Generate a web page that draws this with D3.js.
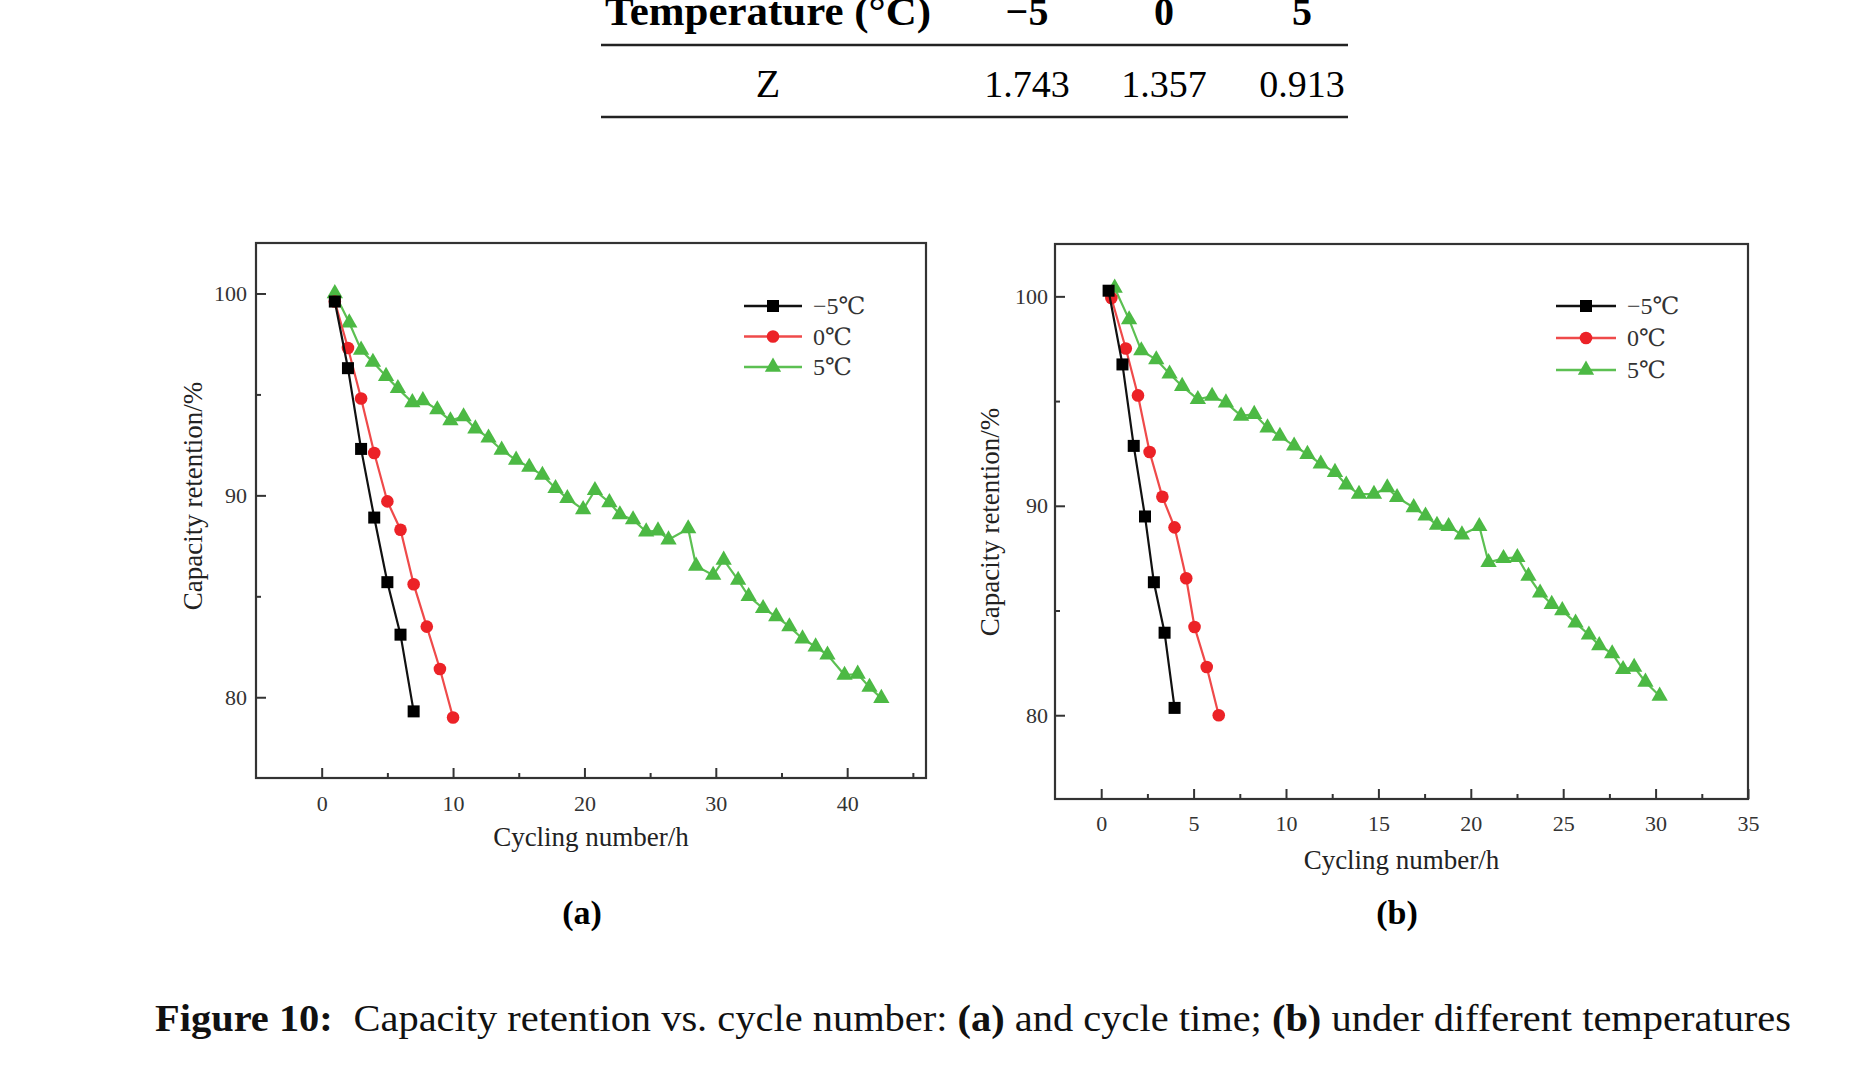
<!DOCTYPE html>
<html>
<head>
<meta charset="utf-8">
<script src="https://cdn.jsdelivr.net/npm/d3@7"></script>
<style>
  body { margin: 0; background: #fff; }
  text { font-family: "Liberation Serif", "DejaVu Serif", serif; }
</style>
</head>
<body>
<script>
// Table at the top
const tableTemps = ["−5", "0", "5"];
const tableZ = ["1.743", "1.357", "0.913"];

// Legend labels
const seriesNames = ["−5℃", "0℃", "5℃"];

// Panel (a): capacity retention vs cycling number
const aBlackX = [1, 2, 3, 4, 5, 6, 7];
const aBlackY = [99.6, 96.3, 92.3, 88.9, 85.7, 83.1, 79.3];
const aRedX = [1, 2, 3, 4, 5, 6, 7, 8, 9, 10];
const aRedY = [99.6, 97.3, 94.8, 92.1, 89.7, 88.3, 85.6, 83.5, 81.4, 79.0];
const aGreenX = [1.0, 2.1, 3.0, 3.9, 4.9, 5.8, 6.9, 7.7, 8.8, 9.8, 10.8, 11.7, 12.7, 13.7, 14.8,
  15.8, 16.8, 17.8, 18.7, 19.9, 20.8, 21.9, 22.7, 23.7, 24.7, 25.6, 26.4, 27.9, 28.5, 29.8,
  30.6, 31.7, 32.5, 33.6, 34.6, 35.6, 36.6, 37.6, 38.5, 39.8, 40.8, 41.7, 42.6];
const aGreenY = [100.0, 98.55, 97.2, 96.6, 95.9, 95.3, 94.6, 94.7, 94.25, 93.7, 93.9, 93.3, 92.85, 92.25, 91.75,
  91.4, 91.0, 90.35, 89.85, 89.3, 90.25, 89.65, 89.05, 88.8, 88.2, 88.25, 87.8, 88.35, 86.5, 86.05,
  86.8, 85.8, 85.0, 84.4, 84.0, 83.5, 82.9, 82.5, 82.1, 81.1, 81.15, 80.5, 79.95];

// Panel (b): capacity retention vs cycle time
const bBlackX = [0.4, 1.15, 1.76, 2.37, 2.85, 3.43, 3.97];
const bBlackY = [100.27, 96.75, 92.86, 89.49, 86.35, 83.94, 80.35];
const bRedX = [0.55, 1.33, 1.99, 2.62, 3.31, 3.97, 4.6, 5.05, 5.71, 6.36];
const bRedY = [99.92, 97.51, 95.27, 92.57, 90.43, 88.97, 86.54, 84.21, 82.3, 80.0];
const bGreenX = [0.73, 1.51, 2.17, 2.98, 3.7, 4.38, 5.23, 6.0, 6.75, 7.57, 8.28, 9.0, 9.67, 10.44, 11.16,
  11.88, 12.65, 13.26, 13.95, 14.76, 15.48, 16.01, 16.91, 17.55, 18.17, 18.8, 19.52, 20.46, 20.96, 21.77,
  22.52, 23.12, 23.75, 24.38, 24.95, 25.67, 26.39, 26.95, 27.65, 28.24, 28.84, 29.45, 30.22];
const bGreenY = [100.4, 98.89, 97.41, 96.98, 96.3, 95.71, 95.08, 95.24, 94.92, 94.29, 94.37, 93.73, 93.33, 92.86, 92.46,
  92.0, 91.6, 91.0, 90.56, 90.56, 90.87, 90.4, 89.92, 89.52, 89.08, 89.02, 88.62, 89.02, 87.3, 87.49,
  87.54, 86.64, 85.84, 85.3, 85.0, 84.41, 83.84, 83.33, 82.94, 82.19, 82.3, 81.59, 80.92];

// Tick values
const yMajor = [80, 90, 100];
const yMinor = [85, 95];
const aXMajor = [0, 10, 20, 30, 40];
const aXMinor = [5, 15, 25, 35, 45];
const bXMajor = [0, 5, 10, 15, 20, 25, 30, 35];
const bXMinor = [2.5, 7.5, 12.5, 17.5, 22.5, 27.5, 32.5];

const colors = ["#000000", "#ec2227", "#4cb944"];
const lineColors = ["#111111", "#ef4a4a", "#5cc052"];

const width = 1863;
const height = 1080;

const svg = d3.select('body').append('svg')
    .attr('width', width)
    .attr('height', height);

// ---- table ----
const colX = [768, 1027, 1164, 1302];
svg.append('line').attr('x1', 601).attr('x2', 1348).attr('y1', 45).attr('y2', 45)
    .attr('stroke', '#222').attr('stroke-width', 2.5);
svg.append('line').attr('x1', 601).attr('x2', 1348).attr('y1', 117).attr('y2', 117)
    .attr('stroke', '#222').attr('stroke-width', 2.5);

svg.append('text').attr('x', colX[0]).attr('y', 25).attr('text-anchor', 'middle')
    .attr('font-size', 40).attr('font-weight', 'bold')
    .attr('textLength', 326).attr('lengthAdjust', 'spacingAndGlyphs')
    .text('Temperature (°C)');
tableTemps.forEach((t, i) => {
    svg.append('text').attr('x', colX[i + 1]).attr('y', 25).attr('text-anchor', 'middle')
        .attr('font-size', 40).attr('font-weight', 'bold').text(t);
});
svg.append('text').attr('x', colX[0]).attr('y', 97).attr('text-anchor', 'middle')
    .attr('font-size', 40).text('Z');
tableZ.forEach((t, i) => {
    svg.append('text').attr('x', colX[i + 1]).attr('y', 97).attr('text-anchor', 'middle')
        .attr('font-size', 38).text(t);
});

// ---- panels ----
const drawPanel = (p) => {
    const x = d3.scaleLinear().domain(p.xDomain).range([p.left, p.right]);
    const y = d3.scaleLinear().domain([76, 102.5]).range([p.bottom, p.top]);
    const g = svg.append('g');

    // Bottom axis, ticks pointing inward
    g.append('g')
        .attr('transform', `translate(0,${p.bottom})`)
        .call(d3.axisBottom(x).tickValues(p.xMajor).tickSize(-10).tickPadding(p.xPad))
        .call(a => a.select('.domain').remove())
        .call(a => a.selectAll('text').attr('font-size', 22).attr('fill', '#333')
            .attr('font-family', '"Liberation Serif", serif'))
        .call(a => a.selectAll('line').attr('stroke', '#333').attr('stroke-width', 2));
    g.append('g')
        .attr('transform', `translate(0,${p.bottom})`)
        .call(d3.axisBottom(x).tickValues(p.xMinor).tickSize(-5).tickFormat(''))
        .call(a => a.select('.domain').remove())
        .call(a => a.selectAll('line').attr('stroke', '#333').attr('stroke-width', 2));

    // Left axis
    g.append('g')
        .attr('transform', `translate(${p.left},0)`)
        .call(d3.axisLeft(y).tickValues(yMajor).tickSize(-10).tickPadding(p.yPad))
        .call(a => a.select('.domain').remove())
        .call(a => a.selectAll('text').attr('font-size', 22).attr('fill', '#333')
            .attr('font-family', '"Liberation Serif", serif'))
        .call(a => a.selectAll('line').attr('stroke', '#333').attr('stroke-width', 2));
    g.append('g')
        .attr('transform', `translate(${p.left},0)`)
        .call(d3.axisLeft(y).tickValues(yMinor).tickSize(-5).tickFormat(''))
        .call(a => a.select('.domain').remove())
        .call(a => a.selectAll('line').attr('stroke', '#333').attr('stroke-width', 2));

    // Frame
    g.append('rect')
        .attr('x', p.left).attr('y', p.top)
        .attr('width', p.right - p.left).attr('height', p.bottom - p.top)
        .attr('fill', 'none').attr('stroke', '#333').attr('stroke-width', 2.2);

    // Series: green, red, black (black on top)
    const series = [
        {xs: p.series[2][0], ys: p.series[2][1], k: 2},
        {xs: p.series[1][0], ys: p.series[1][1], k: 1},
        {xs: p.series[0][0], ys: p.series[0][1], k: 0},
    ];
    const line = d3.line().x(d => x(d[0])).y(d => y(d[1]));
    series.forEach(s => {
        const pts = s.xs.map((v, i) => [v, s.ys[i]]);
        g.append('path').datum(pts)
            .attr('d', line)
            .attr('fill', 'none')
            .attr('stroke', lineColors[s.k])
            .attr('stroke-width', 2.2);
        drawMarkers(g, pts.map(d => [x(d[0]), y(d[1])]), s.k);
    });

    // Legend
    seriesNames.forEach((name, i) => {
        const ly = p.legY + i * p.legStep;
        g.append('line')
            .attr('x1', p.legX).attr('x2', p.legX + p.legLen)
            .attr('y1', ly).attr('y2', ly)
            .attr('stroke', lineColors[i]).attr('stroke-width', 2.4);
        drawMarkers(g, [[p.legX + p.legLen / 2, ly]], i);
        g.append('text')
            .attr('x', p.legX + p.legLen + 11).attr('y', ly + 8)
            .attr('font-size', 24).attr('fill', '#333')
            .text(name);
    });

    // Axis titles
    g.append('text')
        .attr('x', (p.left + p.right) / 2).attr('y', p.xTitleY)
        .attr('text-anchor', 'middle').attr('font-size', 27).attr('fill', '#222')
        .text('Cycling number/h');
    g.append('text')
        .attr('transform', `translate(${p.yTitleX},${p.yTitleY}) rotate(-90)`)
        .attr('text-anchor', 'middle').attr('font-size', 27).attr('fill', '#222')
        .text('Capacity retention/%');

    // Panel label
    g.append('text')
        .attr('x', p.labelX).attr('y', 924)
        .attr('text-anchor', 'middle').attr('font-size', 34).attr('font-weight', 'bold')
        .text(p.label);
};

function drawMarkers(g, pts, k) {
    if (k === 0) {
        g.selectAll(null).data(pts).join('rect')
            .attr('x', d => d[0] - 6).attr('y', d => d[1] - 6)
            .attr('width', 12).attr('height', 12)
            .attr('fill', colors[0]);
    } else if (k === 1) {
        g.selectAll(null).data(pts).join('circle')
            .attr('cx', d => d[0]).attr('cy', d => d[1]).attr('r', 6.3)
            .attr('fill', colors[1]);
    } else {
        const tri = d3.symbol().type(d3.symbolTriangle).size(115);
        g.selectAll(null).data(pts).join('path')
            .attr('d', tri)
            .attr('transform', d => `translate(${d[0]},${d[1]})`)
            .attr('fill', colors[2]);
    }
}

drawPanel({
    left: 256, right: 926, top: 243, bottom: 778,
    xDomain: [-5, 46], xMajor: aXMajor, xMinor: aXMinor,
    xPad: 17, yPad: 9,
    series: [[aBlackX, aBlackY], [aRedX, aRedY], [aGreenX, aGreenY]],
    legX: 744, legLen: 58, legY: 306, legStep: 30.5,
    xTitleY: 846, yTitleX: 202, yTitleY: 496,
    labelX: 582, label: '(a)'
});

drawPanel({
    left: 1055, right: 1748, top: 244, bottom: 799,
    xDomain: [-2.5, 35], xMajor: bXMajor, xMinor: bXMinor,
    xPad: 16, yPad: 7,
    series: [[bBlackX, bBlackY], [bRedX, bRedY], [bGreenX, bGreenY]],
    legX: 1556, legLen: 60, legY: 306, legStep: 32,
    xTitleY: 869, yTitleX: 999, yTitleY: 522,
    labelX: 1397, label: '(b)'
});

// ---- caption ----
const cap = svg.append('text')
    .attr('x', 155).attr('y', 1031)
    .attr('font-size', 38).attr('fill', '#111')
    .attr('textLength', 1636).attr('lengthAdjust', 'spacingAndGlyphs');
cap.append('tspan').attr('font-weight', 'bold').text('Figure 10:');
cap.append('tspan').attr('dx', 10).text(' Capacity retention vs. cycle number: ');
cap.append('tspan').attr('font-weight', 'bold').text('(a)');
cap.append('tspan').text(' and cycle time; ');
cap.append('tspan').attr('font-weight', 'bold').text('(b)');
cap.append('tspan').text(' under different temperatures');
</script>
</body>
</html>
